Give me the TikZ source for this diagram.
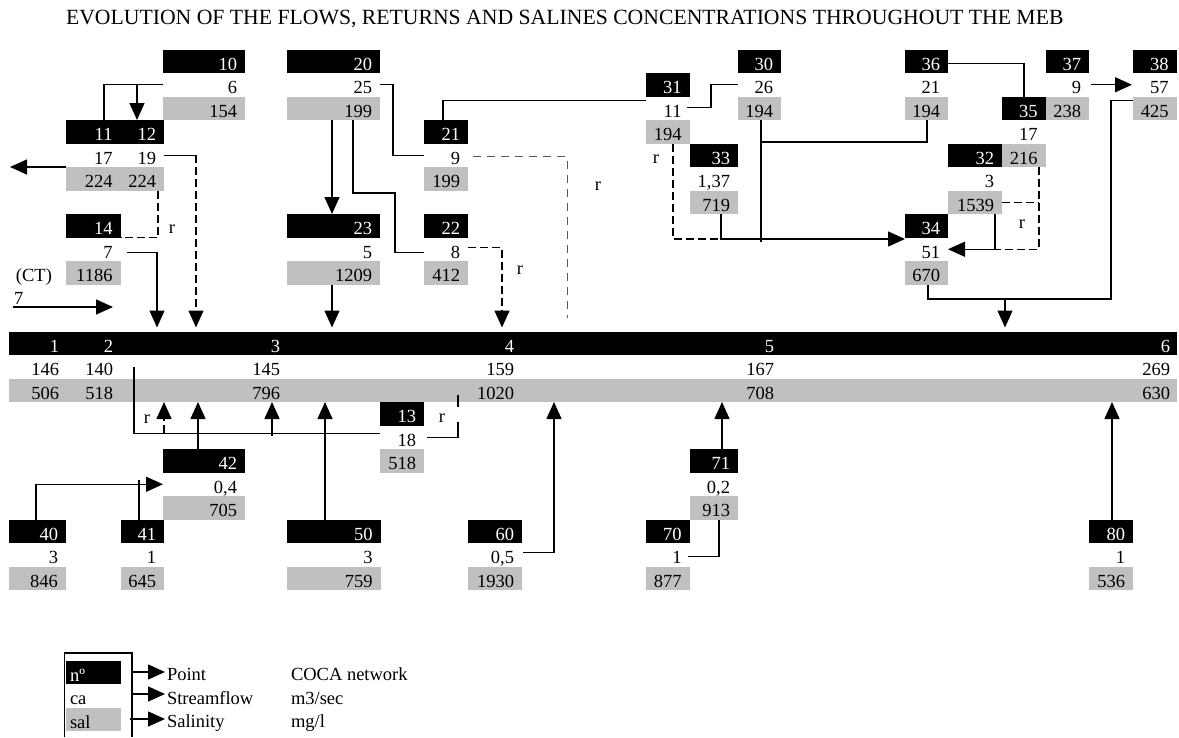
\documentclass[tikz,border=0pt]{standalone}
\usepackage{fontspec}
\setmainfont{Liberation Serif}
\usetikzlibrary{arrows.meta}
\definecolor{xlgray}{HTML}{C0C0C0}
\newcommand\cel[7]{%
  \node[#2, anchor=north west, minimum width=#5pt, minimum height=23.5pt] (#1) at (#3, 49.5+23.5*#4) {};
  \node[anchor=base east, #7] (#1t) at ([xshift=-8pt, yshift=3pt]#1.south east) {#6};
}
\newcommand\B[5]{\cel{#1}{bk}{#2}{#3}{#4}{#5}{text=white}}
\newcommand\G[5]{\cel{#1}{gy}{#2}{#3}{#4}{#5}{}}
\newcommand\F[5]{\cel{#1}{fl}{#2}{#3}{#4}{#5}{}}
\begin{document}
\begin{tikzpicture}[x=1pt,y=-1pt,
  every node/.style={inner sep=0pt, outer sep=0pt, font=\fontsize{18.5}{21}\selectfont},
  ln/.style={line width=1.4pt},
  arr/.style={line width=1.4pt, -{Triangle[length=17pt,width=15pt]}},
  dsh/.style={dash pattern=on 8pt off 4pt},
  tob/.style={shorten >=4pt},
  rl/.style={line width=1pt, draw=black!65, dash pattern=on 8pt off 6pt},
  bk/.style={fill=black},
  gy/.style={fill=xlgray},
  fl/.style={},
]
\fill[white] (0,0) rectangle (1179,737);
\useasboundingbox (0,0) rectangle (1179,737);

\node[anchor=base west, font=\fontsize{21.7}{24}\selectfont] (title) at (66,24) {EVOLUTION OF THE FLOWS, RETURNS AND SALINES CONCENTRATIONS THROUGHOUT THE MEB};

% ---- upper blocks
\B{b10}{163}{0}{82}{10}
\F{f10}{163}{1}{82}{6}
\G{g10}{163}{2}{82}{154}
\B{b11}{66}{3}{54.5}{11}
\B{b12}{120.5}{3}{43.5}{12}
\F{f11}{66}{4}{54.5}{17}
\F{f12}{120.5}{4}{43.5}{19}
\G{g11}{66}{5}{54.5}{224}
\G{g12}{120.5}{5}{43.5}{224}
\B{b14}{66}{7}{54.5}{14}
\F{f14}{66}{8}{54.5}{7}
\G{g14}{66}{9}{54.5}{1186}
\B{b20}{287}{0}{93}{20}
\F{f20}{287}{1}{93}{25}
\G{g20}{287}{2}{93}{199}
\B{b21}{424}{3}{44}{21}
\F{f21}{424}{4}{44}{9}
\G{g21}{424}{5}{44}{199}
\B{b23}{287}{7}{93}{23}
\F{f23}{287}{8}{93}{5}
\G{g23}{287}{9}{93}{1209}
\B{b22}{424}{7}{44}{22}
\F{f22}{424}{8}{44}{8}
\G{g22}{424}{9}{44}{412}
\B{b31}{646}{1}{43.5}{31}
\F{f31}{646}{2}{43.5}{11}
\G{g31}{646}{3}{43.5}{194}
\B{b30}{738}{0}{43}{30}
\F{f30}{738}{1}{43}{26}
\G{g30}{738}{2}{43}{194}
\B{b33}{689.5}{4}{48.5}{33}
\F{f33}{689.5}{5}{48.5}{1,37}
\G{g33}{689.5}{6}{48.5}{719}
\B{b36}{905}{0}{43}{36}
\F{f36}{905}{1}{43}{21}
\G{g36}{905}{2}{43}{194}
\B{b37}{1045.5}{0}{43.5}{37}
\F{f37}{1045.5}{1}{43.5}{9}
\B{b38}{1133}{0}{43.5}{38}
\F{f38}{1133}{1}{43.5}{57}
\G{g38}{1133}{2}{43.5}{425}
\B{b35}{1002}{2}{43.5}{35}
\G{g35}{1045.5}{2}{43.5}{238}
\F{f35}{1002}{3}{43.5}{17}
\B{b32}{948}{4}{54}{32}
\G{g32}{1002}{4}{43.5}{216}
\F{f32}{948}{5}{54}{3}
\G{g32b}{948}{6}{54}{1539}
\B{b34}{905}{7}{43}{34}
\F{f34}{905}{8}{43}{51}
\G{g34}{905}{9}{43}{670}

% ---- main bar
\node[bk, anchor=north west, minimum width=1168pt, minimum height=23.5pt] (mbar) at (8.5,331.5) {};
\node[fl, anchor=north west, minimum width=1168pt, minimum height=23.5pt] (mflow) at (8.5,355) {};
\node[gy, anchor=north west, minimum width=1168pt, minimum height=23.5pt] (mgray) at (8.5,378.5) {};
\foreach \n/\x/\q/\s in {1/59/146/506, 2/113/140/518, 3/280/145/796, 4/514/159/1020, 5/774/167/708, 6/1170/269/630}{
  \node[anchor=base east, text=white] (mb\n) at (\x,352) {\n};
  \node[anchor=base east] (mf\n) at (\x,375.5) {\q};
  \node[anchor=base east] (mg\n) at (\x,399) {\s};
}

% ---- lower blocks
\B{b13}{380}{15}{44}{13}
\F{f13}{380}{16}{44}{18}
\G{g13}{380}{17}{44}{518}
\B{b42}{163}{17}{82}{42}
\F{f42}{163}{18}{82}{0,4}
\G{g42}{163}{19}{82}{705}
\B{b71}{689.5}{17}{48.5}{71}
\F{f71}{689.5}{18}{48.5}{0,2}
\G{g71}{689.5}{19}{48.5}{913}
\B{b40}{8.5}{20}{57.5}{40}
\F{f40}{8.5}{21}{57.5}{3}
\G{g40}{8.5}{22}{57.5}{846}
\B{b41}{120.5}{20}{43.5}{41}
\F{f41}{120.5}{21}{43.5}{1}
\G{g41}{120.5}{22}{43.5}{645}
\B{b50}{287}{20}{93.5}{50}
\F{f50}{287}{21}{93.5}{3}
\G{g50}{287}{22}{93.5}{759}
\B{b60}{467.5}{20}{54.5}{60}
\F{f60}{467.5}{21}{54.5}{0,5}
\G{g60}{467.5}{22}{54.5}{1930}
\B{b70}{646}{20}{43.5}{70}
\F{f70}{646}{21}{43.5}{1}
\G{g70}{646}{22}{43.5}{877}
\B{b80}{1089}{20}{44}{80}
\F{f80}{1089}{21}{44}{1}
\G{g80}{1089}{22}{44}{536}

% ---- side labels
\node[anchor=base west] (ct) at (16,281.5) {(CT)};
\node[anchor=base west] (ct7) at (14,304) {7};
\node (r1) at (172,229) {r};
\node (r2) at (598,186) {r};
\node (r3) at (520,270) {r};
\node (r4) at (656,159) {r};
\node (r5) at (1022,224) {r};
\node (r6) at (147,419) {r};
\node (r7) at (442,418) {r};

% ---- connectors, upper part
\draw[ln] (f10.west) -| (104,0 |- b11.north);
\draw[arr] (137,0 |- f10.west) -- (137,0 |- b12.north);
\draw[arr] (f11.south west) -- (10,0 |- f11.south west);
\coordinate (k19) at (196,0 |- f12.east);
\draw[ln] (f12.east) -- (k19);
\draw[arr,dsh,tob] (k19) -- (196,0 |- mbar.north);
\draw[ln,dsh] (158,0 |- g12.south) |- (b14.south east);
\draw[arr,tob] ([xshift=6pt,yshift=-3pt]f14.east) -| (157,0 |- mbar.north);
\coordinate (ctl) at ([xshift=-1pt,yshift=-3pt]ct7.south west);
\draw[arr] (ctl) -- (ctl -| 113,0);
\draw[arr] (332,0 |- g20.south) -- (332,0 |- b23.north);
\draw[ln] (f20.east) -| (393,0 |- f21.west) -- (f21.west);
\draw[ln] (353,0 |- g20.south) |- (395,193) |- ([yshift=-3pt]f22.west);
\draw[arr,tob] (332,0 |- g23.south) -- (332,0 |- mbar.north);
\coordinate (e9) at (567,318);
\draw[rl] ([xshift=5pt,yshift=-1.5pt]f21.east) -| (e9);
\draw[arr,dsh,tob] ([yshift=1.5pt]f22.east) -| (502,0 |- mbar.north);
\draw[ln] (443,0 |- b21.north) |- ([yshift=7.5pt]f31.west);
\draw[ln] ([xshift=-3pt,yshift=1pt]f31.east) -| (711,0 |- f30.west) -- (f30.west);
\coordinate (j33) at (721,239);
\draw[ln,dsh] (673,0 |- g31.south) |- (j33);
\draw[arr] (721,0 |- g33.south) |- ([yshift=-1.5pt]b34.south west);
\draw[ln] (761,0 |- g30.south) -- (761,242);
\draw[ln] (927,0 |- g36.south) |- (761,142);
\draw[ln] ([yshift=-2pt]b36.east) -| (1024,0 |- b35.north);
\draw[arr] ([xshift=2pt]f37.east) -- ([xshift=-1pt]f38.west);
\draw[ln,dsh] (1039,0 |- g32.south) |- (995,0 |- f34.east);
\draw[ln,dsh] (g32b.east) -- (1039,0 |- g32b.east);
\draw[arr] (995,0 |- g32b.south) |- (f34.east);
\coordinate (j670) at (1005,299);
\draw[ln] (928,0 |- g34.south) |- (1111,299) |- ([yshift=8pt]g38.west);
\draw[arr,tob] (j670) -- (1005,0 |- mbar.north);

% ---- connectors, lower part
\coordinate (h13) at ([yshift=4pt]f13.west);
\draw[ln] (134,0 |- mflow.center) |- (h13);
\draw[arr,dsh] (164,0 |- h13) -- (164,0 |- mgray.south);
\draw[arr] (198,0 |- b42.north) -- (198,0 |- mgray.south);
\draw[arr] ([yshift=-3pt]272,0 |- h13) -- (272,0 |- mgray.south);
\draw[arr] (325,0 |- b50.north) -- (325,0 |- mgray.south);
\draw[ln, dash pattern=on 46pt off 15pt on 14pt off 100pt] ([xshift=3pt]f13.east) -| (458,395);
\draw[arr] ([xshift=1pt,yshift=2pt]f60.east) -| (554,0 |- mgray.south);
\draw[ln] ([xshift=-2pt,yshift=-2pt]f70.east) -| (719,0 |- g71.south);
\draw[arr] (722,0 |- b71.north) -- (722,0 |- mgray.south);
\draw[arr] (1112,0 |- b80.north) -- (1112,0 |- mgray.south);
\draw[arr] (36,0 |- b40.north) |- (f42.west);
\draw[ln] (139,0 |- b41.north) -- (139,480);

% ---- legend
\draw[ln] (64.5,737) |- (132,653) -- (132,737);
\node[bk, anchor=north west, minimum width=55pt, minimum height=23.5pt] (lgn) at (66,660.5) {};
\node[gy, anchor=north west, minimum width=55pt, minimum height=23.5pt] (lgs) at (66,707.5) {};
\node[anchor=base west, text=white] (lgnt) at (70,681) {nº};
\node[anchor=base west] (lgct) at (70,704.5) {ca};
\node[anchor=base west] (lgst) at (70,728) {sal};
\node[anchor=base west] (lp) at (167,680.5) {Point};
\node[anchor=base west] (ls) at (167,704) {Streamflow};
\node[anchor=base west] (ly) at (167,727.5) {Salinity};
\node[anchor=base west] (lp2) at (291,680.5) {COCA network};
\node[anchor=base west] (ls2) at (291,704) {m3/sec};
\node[anchor=base west] (ly2) at (291,727.5) {mg/l};
\draw[arr] (132,672) -- (165,672);
\draw[arr] (132,694) -- (165,694);
\draw[arr] (130,719) -- (165,719);
\end{tikzpicture}
\end{document}
